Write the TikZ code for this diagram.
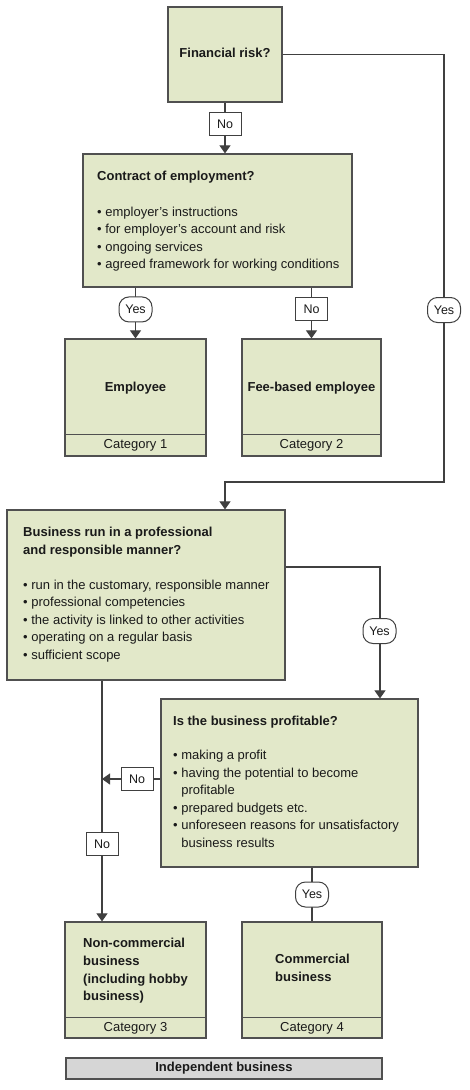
\documentclass[tikz,border=0pt]{standalone}
\usepackage{fontspec}
\setmainfont{Liberation Sans}
\usetikzlibrary{arrows.meta}
\definecolor{boxfill}{HTML}{E2E8C9}
\definecolor{boxline}{HTML}{505050}
\definecolor{barfill}{HTML}{D6D6D6}
\definecolor{txtcol}{HTML}{1A1A1A}
\tikzset{
  box/.style={draw=boxline, fill=boxfill, line width=1.2pt, inner sep=0pt},
  divline/.style={draw=boxline, line width=1.2pt},
  bar/.style={draw=boxline, fill=barfill, line width=1.2pt, inner sep=0pt,
    minimum width=316pt, minimum height=21pt, font=\fontsize{13}{16}\selectfont\bfseries, text=txtcol},
  conn/.style={draw=black!75, line width=1.1pt},
  arr/.style={conn, -{Triangle[width=11pt,length=8pt]}},
  nolbl/.style={draw=black!75, fill=white, line width=1pt, minimum width=32pt,
    minimum height=23pt, inner sep=0pt, font=\fontsize{12.5}{15}\selectfont, text=txtcol},
  yeslbl/.style={nolbl, rounded corners=10pt, minimum width=33pt, minimum height=25pt},
  txt/.style={anchor=north west, inner sep=0pt, align=left,
    font=\fontsize{13}{17.5}\selectfont, text=txtcol},
  btxt/.style={txt, font=\fontsize{13}{17.7}\selectfont\bfseries},
  ctitle/.style={inner sep=0pt, font=\fontsize{13}{16}\selectfont\bfseries, text=txtcol},
  cat/.style={inner sep=0pt, font=\fontsize{13}{16}\selectfont, text=txtcol},
}
\begin{document}
\begin{tikzpicture}[x=1pt,y=-1pt]
\useasboundingbox (0,0) rectangle (469,1090);

% boxes
\node[box, minimum width=114pt, minimum height=95pt] (fin) at (225,54.5) {};
\node[ctitle] (fint) at (225,53) {Financial risk?};

\node[box, minimum width=269pt, minimum height=133pt] (contract) at (217.5,220.5) {};
\node[txt] (contractt) at (97,168.25) {\strut\textbf{Contract of employment?}\\[18pt]
• employer’s instructions\\
• for employer’s account and risk\\
• ongoing services\\
• agreed framework for working conditions};

\node[box, minimum width=141pt, minimum height=117pt] (emp) at (135.5,397.5) {};
\draw[divline] ([yshift=22pt]emp.south west) -- ([yshift=22pt]emp.south east);
\node[ctitle] (empt) at (135.5,388) {Employee};
\node[cat] (cat1) at ([yshift=11pt]emp.south) {Category 1};

\node[box, minimum width=139pt, minimum height=117pt] (fee) at (311.5,397.5) {};
\draw[divline] ([yshift=22pt]fee.south west) -- ([yshift=22pt]fee.south east);
\node[ctitle] (feet) at (311.5,388) {Fee-based employee};
\node[cat] (cat2) at ([yshift=11pt]fee.south) {Category 2};

\node[box, minimum width=278pt, minimum height=170pt] (business) at (146,595) {};
\node[txt] (businesst) at (23,524.25) {\strut\textbf{Business run in a professional}\\
\textbf{and responsible manner?}\\[17.5pt]
• run in the customary, responsible manner\\
• professional competencies\\
• the activity is linked to other activities\\
• operating on a regular basis\\
• sufficient scope};

\node[box, minimum width=257pt, minimum height=168pt] (prof) at (289.5,783) {};
\node[txt] (proft) at (173,713.25) {\strut\textbf{Is the business profitable?}\\[16.5pt]
• making a profit\\
• having the potential to become\\
\phantom{• }profitable\\
• prepared budgets etc.\\
• unforeseen reasons for unsatisfactory\\
\phantom{• }business results};

\node[box, minimum width=141pt, minimum height=116pt] (noncom) at (135.5,980) {};
\draw[divline] ([yshift=21pt]noncom.south west) -- ([yshift=21pt]noncom.south east);
\node[btxt] (noncomt) at (83,935.25) {\strut Non-commercial\\business\\(including hobby\\business)};
\node[cat] (cat3) at ([yshift=10.5pt]noncom.south) {Category 3};

\node[box, minimum width=140pt, minimum height=116pt] (comm) at (312,980) {};
\draw[divline] ([yshift=21pt]comm.south west) -- ([yshift=21pt]comm.south east);
\node[btxt] (commt) at (275,951.25) {\strut Commercial\\business};
\node[cat] (cat4) at ([yshift=10.5pt]comm.south) {Category 4};

\node[bar] (indep) at (224,1068.5) {Independent business};

% connectors
\draw[arr] (fin.south) -- (fin.south |- contract.north) node[nolbl, pos=0.43] (no1) {No};

\coordinate (rt) at (444,482);
\draw[arr] (fin.east) -| (rt) -| (fin.south |- business.north);
\node[yeslbl] (yes1) at (444,310) {Yes};

\draw[arr] (emp.north |- contract.south) -- (emp.north) node[yeslbl, pos=0.43] (yes2) {Yes};
\draw[arr] (fee.north |- contract.south) -- (fee.north) node[nolbl, pos=0.43] (no2) {No};

\draw[arr] ([yshift=28pt]business.east) -| ([xshift=90.5pt]prof.north);
\node[yeslbl] (yes3) at (379.5,631) {Yes};

\coordinate (bl) at ([xshift=-44pt]business.south);
\draw[arr] (bl) -- ([xshift=-33.5pt]noncom.north) node[nolbl, pos=0.68] (no4) {No};
\draw[arr] ([yshift=4pt]prof.west) -- ([yshift=4pt]prof.west -| bl) node[nolbl, pos=0.4] (no3) {No};

\draw[conn] (comm.north |- prof.south) -- (comm.north) node[yeslbl, pos=0.5] (yes4) {Yes};
\end{tikzpicture}
\end{document}
